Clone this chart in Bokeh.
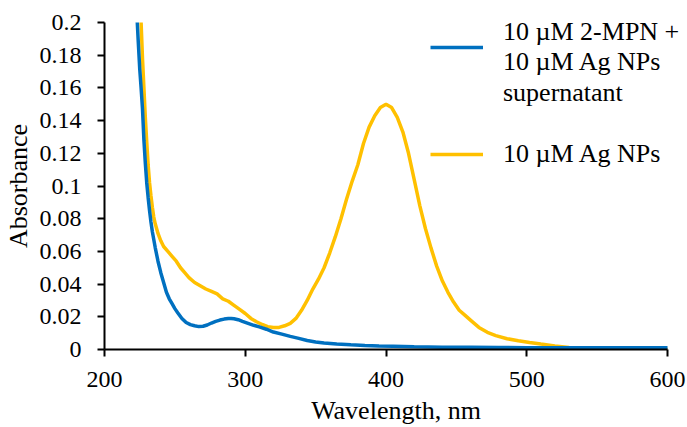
from bokeh.plotting import figure
from bokeh.models import Range1d, FixedTicker, Legend, LegendItem
from bokeh.embed import file_html
from bokeh.resources import INLINE

# ---- data ----
lam_blue = [220, 222, 223, 224, 225, 226, 227, 228, 229, 230, 231, 232, 233, 234,
            236, 238, 240, 242, 244, 246, 248, 250, 252, 255, 258, 261, 264, 267,
            270, 273, 276, 279, 282, 285, 288, 290, 292, 295, 298, 302, 306, 310,
            315, 320, 326, 332, 338, 344, 350, 356, 365, 375, 385, 395, 405, 420,
            440, 460, 480, 500, 525, 550, 575, 600]
abs_blue = [0.28, 0.225, 0.205, 0.188, 0.172, 0.160, 0.147, 0.128, 0.114, 0.102, 0.093, 0.085, 0.078, 0.072,
            0.0625, 0.054, 0.047, 0.041, 0.035, 0.031, 0.028, 0.025, 0.0225, 0.019, 0.0165, 0.0152, 0.0145, 0.014,
            0.0142, 0.015, 0.0162, 0.0172, 0.018, 0.0186, 0.019, 0.019, 0.0188, 0.0182, 0.0172, 0.016, 0.0148, 0.0138,
            0.0124, 0.0107, 0.0094, 0.008, 0.0068, 0.0055, 0.0046, 0.004, 0.0034, 0.0029, 0.0025, 0.0022, 0.002, 0.0017,
            0.0014, 0.0013, 0.0012, 0.0011, 0.001, 0.001, 0.001, 0.001]

lam_orange = [222, 224, 225, 226, 227, 228, 229, 230, 231, 232, 233, 234, 235, 236, 237, 238,
              240, 242, 245, 248, 251, 254, 257, 260, 264, 268, 272, 276, 280, 284, 288, 292,
              296, 300, 304, 308, 312, 316, 320, 324, 328, 332, 336, 340, 344, 348, 352, 356,
              360, 364, 368, 372, 376, 380, 384, 388, 392, 396, 400, 404, 408, 412, 416, 420,
              424, 428, 432, 436, 440, 444, 448, 452, 456, 460, 466, 472, 478, 486, 494, 502,
              510, 520, 530, 540, 550, 560, 575, 590, 600]
abs_orange = [0.30, 0.25, 0.225, 0.200, 0.178, 0.160, 0.142, 0.127, 0.113, 0.102, 0.094, 0.087, 0.081, 0.077, 0.074, 0.071,
              0.0665, 0.063, 0.060, 0.057, 0.054, 0.050, 0.047, 0.044, 0.041, 0.039, 0.037, 0.0355, 0.034, 0.031, 0.0295, 0.027,
              0.0245, 0.022, 0.019, 0.017, 0.0153, 0.014, 0.0134, 0.0135, 0.0145, 0.016, 0.019, 0.024, 0.030, 0.037, 0.043, 0.050,
              0.059, 0.069, 0.080, 0.092, 0.103, 0.113, 0.126, 0.136, 0.143, 0.148, 0.150, 0.148, 0.142, 0.133, 0.120, 0.104,
              0.088, 0.074, 0.062, 0.051, 0.042, 0.035, 0.029, 0.024, 0.021, 0.018, 0.0135, 0.0105, 0.0085, 0.0066, 0.0054, 0.0043,
              0.0033, 0.0022, 0.0013, 0.0007, 0.0003, 0.0001, 0.0, 0.0, 0.0002]

label_blue_lines = ["10 \u00b5M 2-MPN +\n10 \u00b5M Ag NPs", "supernatant"]
label_orange = "10 \u00b5M Ag NPs"

x_ticks = [200, 300, 400, 500, 600]
y_ticks = [0, 0.02, 0.04, 0.06, 0.08, 0.1, 0.12, 0.14, 0.16, 0.18, 0.2]
y_tick_labels = ["0", "0.02", "0.04", "0.06", "0.08", "0.1", "0.12", "0.14", "0.16", "0.18", "0.2"]

x_title = "Wavelength, nm"
y_title = "Absorbance"

FONT = "'Liberation Serif'"
BLUE = "#0070C0"
ORANGE = "#FFC000"

# frame reaches the right edge so the legend text is not clipped;
# the x axis itself is bounded to 200..600
p = figure(width=687, height=427, output_backend="svg", toolbar_location=None,
           x_range=Range1d(200, 614.2), y_range=Range1d(0, 0.2),
           min_border_left=104, min_border_right=0, min_border_top=22, min_border_bottom=78)
p.outline_line_color = None
p.xgrid.visible = False
p.ygrid.visible = False
p.background_fill_color = "white"

r_orange = p.line(lam_orange, abs_orange, line_color=ORANGE, line_width=3.5)
r_blue = p.line(lam_blue, abs_blue, line_color=BLUE, line_width=3.5)
r_none = p.line([], [], line_alpha=0)

for ax in (p.xaxis[0], p.yaxis[0]):
    ax.axis_line_color = "black"
    ax.axis_line_width = 2
    ax.major_tick_line_color = "black"
    ax.major_tick_line_width = 2
    ax.major_tick_in = 0
    ax.major_tick_out = 7
    ax.minor_tick_line_color = None
    ax.major_label_text_font = FONT
    ax.major_label_text_font_size = "24px"
    ax.major_label_text_color = "black"
    ax.axis_label_text_font = FONT
    ax.axis_label_text_font_size = "26px"
    ax.axis_label_text_font_style = "normal"
    ax.axis_label_text_color = "black"

p.xaxis[0].bounds = (200, 600)
p.xaxis[0].ticker = FixedTicker(ticks=x_ticks)
p.yaxis[0].ticker = FixedTicker(ticks=y_ticks)
p.yaxis[0].major_label_overrides = {t: s for t, s in zip(y_ticks, y_tick_labels)}
p.xaxis[0].axis_label = x_title
p.yaxis[0].axis_label = y_title
p.xaxis[0].major_label_standoff = 15
p.xaxis[0].axis_label_standoff = 6
p.yaxis[0].major_label_standoff = 16
p.yaxis[0].axis_label_standoff = 4


def style_legend(lg):
    lg.label_text_font = FONT
    lg.label_text_font_size = "26px"
    lg.label_text_color = "black"
    lg.label_text_line_height = 1.2
    lg.label_height = 31
    lg.glyph_width = 53
    lg.label_standoff = 20
    lg.spacing = 0
    lg.padding = 0
    lg.margin = 0
    lg.border_line_color = None
    lg.background_fill_alpha = 0


legend_a = Legend(items=[LegendItem(label=label_blue_lines[0], renderers=[r_blue]),
                         LegendItem(label=label_blue_lines[1], renderers=[r_none])],
                  location=(326, 241))
legend_b = Legend(items=[LegendItem(label=label_orange, renderers=[r_orange])],
                  location=(326, 180))
style_legend(legend_a)
style_legend(legend_b)
p.add_layout(legend_a)
p.add_layout(legend_b)

open("out.html", "w").write(file_html(p, INLINE))
